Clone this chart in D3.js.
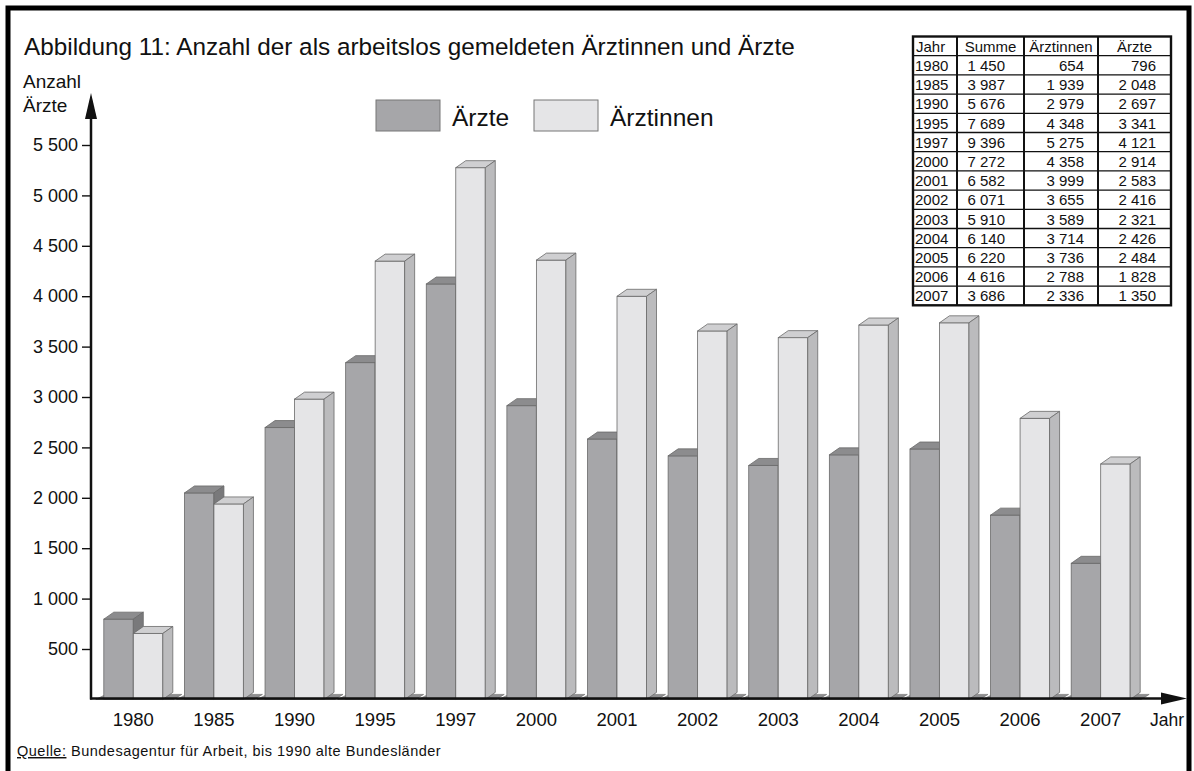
<!DOCTYPE html>
<html lang="de">
<head>
<meta charset="UTF-8">
<title>Abbildung 11</title>
<script src="https://d3js.org/d3.v7.min.js"></script>
<style>
  html, body { margin: 0; padding: 0; background: #fff; }
  svg { display: block; font-family: "Liberation Sans", Arial, sans-serif; }
</style>
</head>
<body>
<div id="chart"></div>
<script>
// Werte aus der Tabelle der Abbildung
const years      = ["1980", "1985", "1990", "1995", "1997", "2000", "2001", "2002", "2003", "2004", "2005", "2006", "2007"];
const aerzte     = [796, 2048, 2697, 3341, 4121, 2914, 2583, 2416, 2321, 2426, 2484, 1828, 1350];
const aerztinnen = [654, 1939, 2979, 4348, 5275, 4358, 3999, 3655, 3589, 3714, 3736, 2788, 2336];
const summe      = [1450, 3987, 5676, 7689, 9396, 7272, 6582, 6071, 5910, 6140, 6220, 4616, 3686];
const yTicks     = [500, 1000, 1500, 2000, 2500, 3000, 3500, 4000, 4500, 5000, 5500];
const tableHead  = ["Jahr", "Summe", "Ärztinnen", "Ärzte"];

const W = 1194, H = 771;
const svg = d3.select("#chart").append("svg")
    .attr("width", W).attr("height", H);

// Rahmen (unten offen)
svg.append("path")
    .attr("d", `M8,${H + 5} L8,8 L1189,8 L1189,${H + 5}`)
    .attr("fill", "none").attr("stroke", "#000").attr("stroke-width", 5);

const fmt = v => d3.format(",")(v).replace(/,/g, " ");

const x = d3.scaleBand().domain(years).range([93, 1141]).paddingInner(0).paddingOuter(0);
const y = d3.scaleLinear().domain([0, 5500]).range([699.4, 145]);
const base = y(0);
const bw = 29.5, dx = 10, dy = 7;

svg.append("text")
    .attr("x", 24).attr("y", 55)
    .attr("font-size", 24.3).attr("fill", "#111")
    .text("Abbildung 11: Anzahl der als arbeitslos gemeldeten Ärztinnen und Ärzte");

svg.append("text").attr("x", 23).attr("y", 88).attr("font-size", 19).attr("fill", "#111").text("Anzahl");
svg.append("text").attr("x", 23).attr("y", 112).attr("font-size", 19).attr("fill", "#111").text("Ärzte");

// Legende
const legend = [
    { name: "Ärzte", fill: "#a6a6a9", x: 376, tx: 452 },
    { name: "Ärztinnen", fill: "#e5e5e7", x: 534, tx: 610 }
];
legend.forEach(l => {
    svg.append("rect").attr("x", l.x).attr("y", 100).attr("width", 64).attr("height", 31)
        .attr("fill", l.fill).attr("stroke", "#777").attr("stroke-width", 1);
    svg.append("text").attr("x", l.tx).attr("y", 126).attr("font-size", 24.5).attr("fill", "#111").text(l.name);
});

// 3D Balken
function bar(g, x0, v, front, top, side) {
    const yt = y(v);
    g.append("rect").attr("x", x0).attr("y", yt).attr("width", bw).attr("height", base - yt)
        .attr("fill", front).attr("stroke", "#6a6a6a").attr("stroke-width", 0.8);
    g.append("path")
        .attr("d", `M${x0},${yt} L${x0 + dx},${yt - dy} L${x0 + bw + dx},${yt - dy} L${x0 + bw},${yt} Z`)
        .attr("fill", top).attr("stroke", "#6a6a6a").attr("stroke-width", 0.8);
    g.append("path")
        .attr("d", `M${x0 + bw},${yt} L${x0 + bw + dx},${yt - dy} L${x0 + bw + dx},${base - dy} L${x0 + bw},${base} Z`)
        .attr("fill", side).attr("stroke", "#6a6a6a").attr("stroke-width", 0.8);
}

const bars = svg.append("g");
years.forEach((yr, i) => {
    const c = x(yr) + x.bandwidth() / 2;
    const g = bars.append("g");
    const L = c - bw - 8, R = c + bw + dx + 1;
    g.append("path")
        .attr("d", `M${L},${base} L${L + dx},${base - 5} L${R + 8},${base - 5} L${R},${base} Z`)
        .attr("fill", "#8f8f91").attr("stroke", "#6a6a6a").attr("stroke-width", 0.6);
    bar(g, c - bw, aerzte[i], "#a6a6a9", "#8c8c8e", "#79797b");
    bar(g, c, aerztinnen[i], "#e5e5e7", "#cfcfd1", "#bbbbbd");
});

// Achsen
const yAxis = svg.append("g").attr("transform", "translate(91,0)")
    .call(d3.axisLeft(y).tickValues(yTicks).tickFormat(fmt).tickSize(9).tickPadding(4));
yAxis.select(".domain").remove();
yAxis.selectAll(".tick line").attr("stroke", "#111").attr("stroke-width", 1.4);
yAxis.selectAll("text").attr("font-size", 18).attr("fill", "#111")
    .attr("font-family", "Liberation Sans, Arial, sans-serif");

const xAxis = svg.append("g").attr("transform", `translate(0,${base})`)
    .call(d3.axisBottom(x).tickSize(0).tickPadding(13));
xAxis.select(".domain").remove();
xAxis.selectAll("text").attr("font-size", 18.5).attr("fill", "#111")
    .attr("font-family", "Liberation Sans, Arial, sans-serif");

svg.append("line").attr("x1", 91).attr("y1", base).attr("x2", 91).attr("y2", 112)
    .attr("stroke", "#111").attr("stroke-width", 2.5);
svg.append("path").attr("d", `M91,93 L85,119 L97,119 Z`).attr("fill", "#111");
svg.append("line").attr("x1", 90).attr("y1", base - 1).attr("x2", 1168).attr("y2", base - 1)
    .attr("stroke", "#111").attr("stroke-width", 2.5);
svg.append("path").attr("d", `M1187,${base - 1} L1161,${base - 7} L1161,${base + 5} Z`).attr("fill", "#111");
svg.append("text").attr("x", 1150).attr("y", 726).attr("font-size", 17.5).attr("fill", "#111").text("Jahr");

// Quelle
const q = svg.append("text").attr("x", 17).attr("y", 756).attr("font-size", 14.5)
    .attr("letter-spacing", 0.5).attr("fill", "#111");
q.append("tspan").attr("text-decoration", "underline").text("Quelle:");
q.append("tspan").text(" Bundesagentur für Arbeit, bis 1990 alte Bundesländer");

// Tabelle
const colX = [913, 957, 1024, 1098, 1171];
const rowH = 19.2, tTop = 36.5;
const nRows = years.length + 1;
const tg = svg.append("g");
d3.range(1, nRows).forEach(r => {
    tg.append("line").attr("x1", colX[0]).attr("x2", colX[4])
        .attr("y1", tTop + r * rowH).attr("y2", tTop + r * rowH)
        .attr("stroke", "#111").attr("stroke-width", 1.3);
});
colX.slice(1, 4).forEach(cx => {
    tg.append("line").attr("x1", cx).attr("x2", cx).attr("y1", tTop).attr("y2", tTop + nRows * rowH)
        .attr("stroke", "#111").attr("stroke-width", 2);
});
tg.append("rect").attr("x", colX[0]).attr("y", tTop).attr("width", colX[4] - colX[0]).attr("height", nRows * rowH)
    .attr("fill", "none").attr("stroke", "#111").attr("stroke-width", 2.4);

const tf = 15;
tableHead.forEach((h, j) => {
    const cx = j === 0 ? colX[0] + 3 : (colX[j] + colX[j + 1]) / 2;
    tg.append("text").attr("x", cx).attr("y", tTop + rowH - 4).attr("font-size", tf)
        .attr("text-anchor", j === 0 ? "start" : "middle").attr("fill", "#111").text(h);
});
const rightEdge = [null, 1005, 1084, 1156];
years.forEach((yr, i) => {
    const ty = tTop + (i + 2) * rowH - 4;
    tg.append("text").attr("x", colX[0] + 2).attr("y", ty).attr("font-size", tf).attr("fill", "#111").text(yr);
    [summe[i], aerztinnen[i], aerzte[i]].forEach((v, j) => {
        tg.append("text").attr("x", rightEdge[j + 1]).attr("y", ty).attr("font-size", tf)
            .attr("text-anchor", "end").attr("fill", "#111").text(fmt(v));
    });
});
</script>
</body>
</html>
